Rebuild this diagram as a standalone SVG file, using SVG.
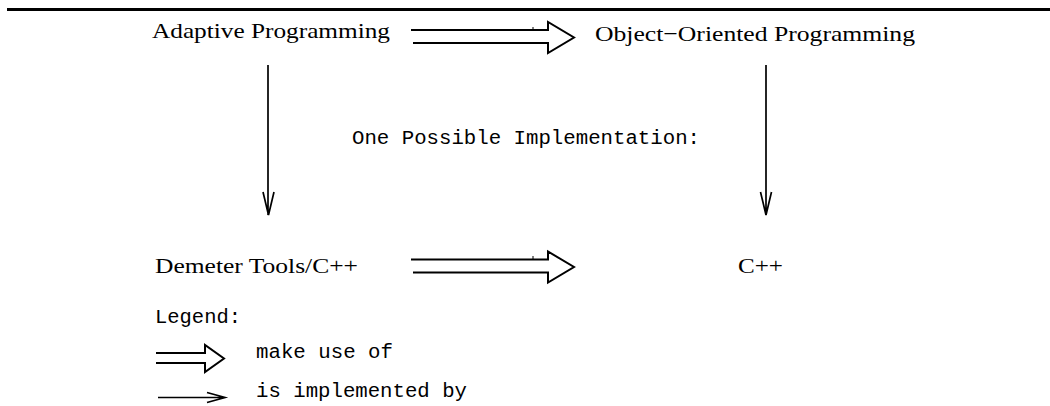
<svg xmlns="http://www.w3.org/2000/svg" width="1050" height="406" viewBox="0 0 1050 406">
<style>
.serif{font-family:"Liberation Serif","Times New Roman",serif;font-size:22px;fill:#000}
.mono{font-family:"Liberation Mono","Courier New",monospace;font-size:19.5px;fill:#000}
.dbl{fill:none;stroke:#000;stroke-width:2;stroke-linejoin:miter}
.sgl{fill:none;stroke:#000;stroke-width:1.7}
.tick{fill:none;stroke:#000;stroke-width:1}
</style>
<rect width="1050" height="406" fill="#fff"/>
<line x1="7" y1="9.5" x2="1050" y2="9.5" stroke="#000" stroke-width="3"/>
<g id="adaptive-programming"><text class="serif" x="152" y="38" textLength="238" lengthAdjust="spacingAndGlyphs">Adaptive Programming</text></g>
<g id="object-oriented-programming"><text class="serif" x="595" y="41" textLength="320" lengthAdjust="spacingAndGlyphs">Object−Oriented Programming</text></g>
<g id="demeter-tools"><text class="serif" x="155" y="272.5" textLength="203" lengthAdjust="spacingAndGlyphs">Demeter Tools/C++</text></g>
<g id="cpp"><text class="serif" x="738" y="272.5" textLength="45" lengthAdjust="spacingAndGlyphs">C++</text></g>
<g id="caption"><text class="mono" x="352" y="143.5" textLength="348" lengthAdjust="spacingAndGlyphs">One Possible Implementation:</text></g>
<g id="connectors">
<path class="dbl" d="M411,30 H548 V22 L574,37.5 L548,53 V43 H413"/>
<path class="tick" d="M533,27 V30"/>
<path class="dbl" d="M411,259.5 H548 V251.5 L574,267 L548,282.5 V272.5 H413"/>
<path class="tick" d="M533,256 V259.5"/>
<path class="sgl" d="M268,65 V215 M263,192 L268.5,215 L274,192"/>
<path class="sgl" d="M766,65 V215 M760.5,192 L766,215 L771.5,192"/>
</g>
<g id="legend">
<text class="mono" x="155" y="323" textLength="86" lengthAdjust="spacingAndGlyphs">Legend:</text>
<path class="dbl" d="M156,353 H205 V345 L224,358.5 L205,372 V363 H156"/>
<text class="mono" x="256" y="357.5" textLength="137" lengthAdjust="spacingAndGlyphs">make use of</text>
<path class="sgl" d="M158,397.5 H225 M207,392.5 L225,397.5 L207,402.5"/>
<text class="mono" x="256" y="397" textLength="211" lengthAdjust="spacingAndGlyphs">is implemented by</text>
</g>
</svg>
